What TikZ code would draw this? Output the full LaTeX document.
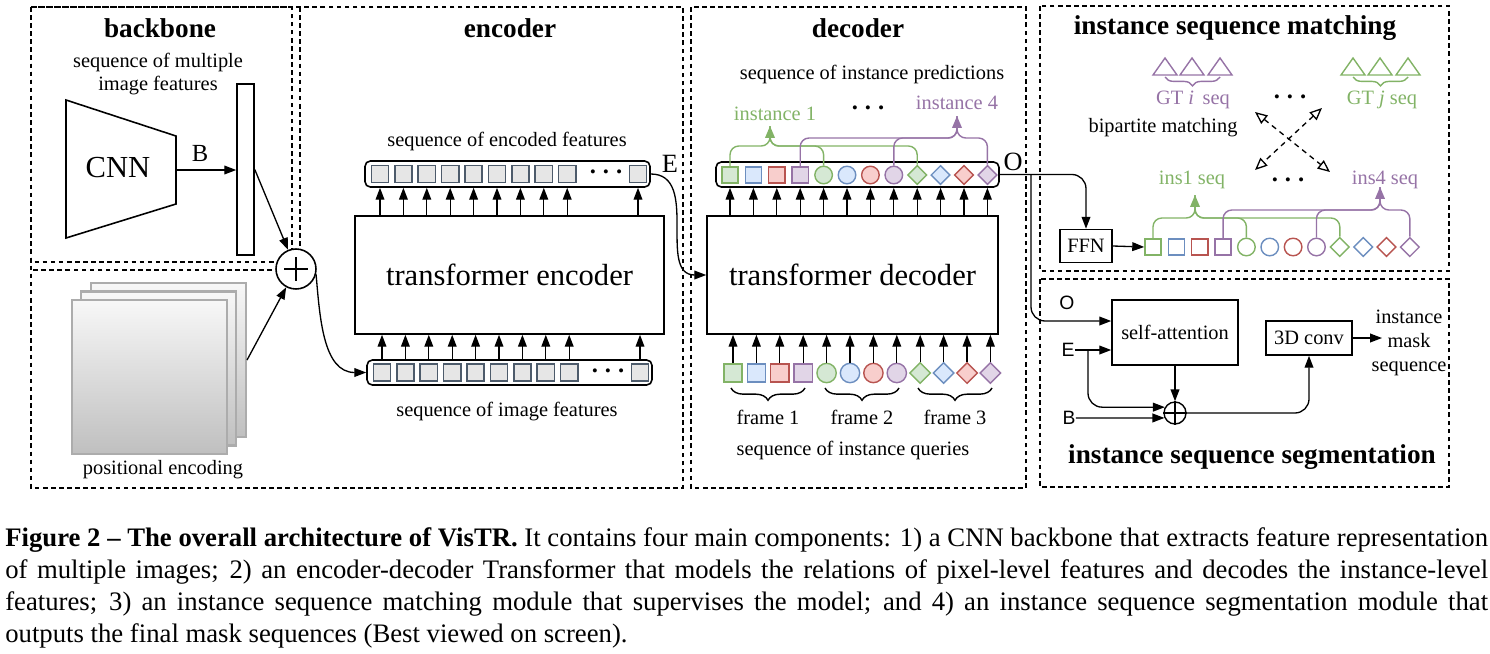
\documentclass[tikz,border=0pt]{standalone}
\usepackage{fontspec}
\setmainfont{Liberation Serif}
\newfontfamily\labelsans{Liberation Sans}
\usetikzlibrary{arrows.meta,positioning,calc,decorations.pathreplacing,shapes.geometric}
\definecolor{dgreen}{HTML}{82B366}
\definecolor{fgreen}{HTML}{D5E8D4}
\definecolor{dblue}{HTML}{6C8EBF}
\definecolor{fblue}{HTML}{DAE8FC}
\definecolor{dred}{HTML}{B85450}
\definecolor{fred}{HTML}{F8CECC}
\definecolor{dpurple}{HTML}{9673A6}
\definecolor{fpurple}{HTML}{E1D5E7}
\definecolor{featline}{HTML}{4D5B6B}
\definecolor{featfill}{HTML}{E6E6E6}

\begin{document}
\begin{tikzpicture}[x=0.02cm,y=-0.02cm,
  panel/.style={draw,dash pattern=on 2.6pt off 2pt,line width=0.8pt},
  arrow/.style={-{Triangle[length=6.8pt,width=5pt]},line width=0.75pt},
  head/.style={font=\bfseries\fontsize{15.5}{18}\selectfont,inner sep=0},
  lbl/.style={font=\fontsize{11.6}{13.6}\selectfont,align=center,inner sep=0},
  bigtxt/.style={font=\fontsize{17.4}{20}\selectfont,inner sep=0},
  letter/.style={font=\fontsize{15}{15}\selectfont,inner sep=0},
  sanslbl/.style={font=\labelsans\fontsize{11}{13}\selectfont,inner sep=0},
  block/.style={draw,line width=0.9pt,inner sep=0,font=\fontsize{11.6}{13.6}\selectfont},
  seqbox/.style={draw,rounded corners=3pt,line width=0.9pt,inner sep=0},
  feat/.style={draw=featline,fill=featfill,line width=1pt,minimum size=9.8pt,inner sep=0},
  tsq/.style={rectangle,minimum size=9.2pt,inner sep=0,line width=0.8pt},
  tci/.style={circle,minimum size=10pt,inner sep=0,line width=0.8pt},
  tdi/.style={diamond,minimum size=11pt,inner sep=0,line width=0.8pt},
  qsq/.style={rectangle,minimum size=10.4pt,inner sep=0,line width=0.8pt},
  qci/.style={circle,minimum size=11pt,inner sep=0,line width=0.8pt},
  qdi/.style={diamond,minimum size=12pt,inner sep=0,line width=0.8pt},
  gbrk/.style={draw=dgreen,line width=0.8pt,rounded corners=5pt},
  pbrk/.style={draw=dpurple,line width=0.8pt,rounded corners=5pt},
  uptip/.style={-{Triangle[length=6.8pt,width=5.5pt]}},
  dotrow/.style={font=\bfseries\fontsize{14}{14}\selectfont,inner sep=0},
  brc/.style={decorate,decoration={brace,amplitude=#1},line width=0.8pt},
  matcharrow/.style={{Triangle[open,length=7pt,width=6pt]}-{Triangle[open,length=7pt,width=6pt]},dash pattern=on 3pt off 2.5pt,line width=0.75pt}
]
\useasboundingbox (0,0) rectangle (1490,653);

% dashed panels
\draw[panel] (31,7) rectangle (683,488);
\draw[panel] (31,7) rectangle (292,262);
\draw[panel] (300,7) -- (300,270) -- (31,270);
\draw[panel] (691,7) rectangle (1026,488);
\draw[panel] (1040,6) rectangle (1449,271);
\draw[panel] (1040,279) rectangle (1449,487);

% backbone
\node[head] (bbtitle) at (160,28) {backbone};
\node[lbl,font=\fontsize{11.6}{12.6}\selectfont] (bbseq) at (158,74) {sequence of multiple\\image features};
\draw[line width=0.9pt] (66,100) -- (176,136) -- (176,204) -- (66,238) -- cycle;
\node[bigtxt] (cnn) at (118,168) {CNN};
\coordinate (cnnout) at (176,170);
\node[block,minimum width=0.34cm,minimum height=3.42cm] (fmap) at (245.5,169.5) {};
\draw[arrow] (cnnout) -- (fmap.west |- cnnout);
\node[font=\fontsize{14}{14}\selectfont,inner sep=0] (blbl) at (200,153) {B};

% positional encoding
\node[draw=gray!65,line width=1.2pt,top color=gray!6,bottom color=gray!50,minimum width=3.1cm,minimum height=3.08cm] (pe3) at (168.5,360) {};
\node[draw=gray!65,line width=1.2pt,top color=gray!6,bottom color=gray!50,minimum width=3.1cm,minimum height=3.08cm] (pe2) at (158.5,368.5) {};
\node[draw=gray!65,line width=1.2pt,top color=gray!6,bottom color=gray!50,minimum width=3.1cm,minimum height=3.08cm] (pe1) at (149.5,377) {};
\node[lbl] (pelbl) at (163,470) {positional encoding};

% sum of features and positions
\node[draw,circle,fill=white,line width=0.9pt,minimum size=0.8cm,inner sep=0] (sum) at (296,269) {};
\draw[line width=0.8pt] (sum.center) ++(-12,0) -- ++(24,0);
\draw[line width=0.8pt] (sum.center) ++(0,-12) -- ++(0,24);
\draw[arrow] (fmap.east) -- (sum);
\draw[arrow] (pe3.east) -- (sum);

% encoder
\node[head] (enctitle) at (510,28) {encoder};
\node[lbl] (enclbl) at (507,141) {sequence of encoded features};
\node[seqbox,minimum width=5.7cm,minimum height=0.52cm] (encseq) at (507.5,174) {};
\node[seqbox,minimum width=5.7cm,minimum height=0.5cm] (imgseq) at (509.5,372.5) {};
\node[block,minimum width=6.18cm,minimum height=2.36cm] (tenc) at (509.5,275) {};
\node[bigtxt] (tenclbl) at (509.5,275) {transformer encoder};
\foreach \n in {0,...,8}{
  \node[feat] (e\n) at ({380+23.4*\n},174) {};
  \node[feat] (i\n) at ({382+23.4*\n},372.5) {};
}
\node[feat] (e9) at (638,174) {};
\node[feat] (i9) at (640,372.5) {};
\node[dotrow] (edots) at (606,172) {.\hspace{4pt}.\hspace{4pt}.};
\node[dotrow] (idots) at (608,371) {.\hspace{4pt}.\hspace{4pt}.};
\foreach \n in {0,...,9}{
  \draw[arrow] (tenc.north -| e\n) -- (encseq.south -| e\n);
  \draw[arrow] (imgseq.north -| i\n) -- (tenc.south -| i\n);
}
\node[lbl] (imglbl) at (507,412) {sequence of image features};
\draw[arrow] (sum.-15) to[out=-85,in=180] (imgseq.west);

% decoder
\node[head] (dectitle) at (858,28) {decoder};
\node[lbl] (predlbl) at (872,74) {sequence of instance predictions};
\node[seqbox,minimum width=5.66cm,minimum height=0.5cm] (outseq) at (857.5,174.5) {};
\node[block,minimum width=5.82cm,minimum height=2.36cm] (tdec) at (852.5,275) {};
\node[bigtxt] (tdeclbl) at (852.5,275) {transformer decoder};
\node[letter] (elbl) at (670,164) {E};
\draw[arrow] (encseq.east) to[out=0,in=180,looseness=1.1] (tdec.west);

\foreach \n/\s/\c in {0/sq/green,1/sq/blue,2/sq/red,3/sq/purple,4/ci/green,5/ci/blue,6/ci/red,7/ci/purple,8/di/green,9/di/blue,10/di/red,11/di/purple}{
  \node[t\s,draw=d\c,fill=f\c] (o\n) at ({730+23.4*\n},175) {};
  \node[q\s,draw=d\c,fill=f\c] (q\n) at ({733+23.4*\n},373) {};
  \node[t\s,draw=d\c,fill=white] (m\n) at ({1153+23.35*\n},247) {};
  \draw[arrow] (tdec.north -| o\n) -- (outseq.south -| o\n);
  \draw[arrow] (q\n.north) -- (tdec.south -| q\n);
}

% instance groups over the predictions
\coordinate (i1mid) at (770,146);
\coordinate (i1tip) at (770,126);
\coordinate (i4mid) at (957,138);
\coordinate (i4tip) at (957,116);
\draw[gbrk] (o0.north) |- (i1mid) -- (i1tip);
\draw[gbrk] (o4.north) |- (i1mid) -- (i1tip);
\draw[gbrk,uptip] (o8.north) |- (i1mid) -- (i1tip);
\draw[pbrk] (o3.north) |- (i4mid) -- (i4tip);
\draw[pbrk] (o7.north) |- (i4mid) -- (i4tip);
\draw[pbrk,uptip] (o11.north) |- (i4mid) -- (i4tip);
\node[lbl,text=dgreen] (ins1lbl) at (775,114) {instance 1};
\node[lbl,text=dpurple] (ins4lbl) at (957,103) {instance 4};
\node[dotrow] (pdots) at (868,108) {.\hspace{4pt}.\hspace{4pt}.};

% frames of the queries
\draw[brc=7pt] (805,388) -- (731,388);
\draw[brc=7pt] (899,388) -- (825,388);
\draw[brc=7pt] (992,388) -- (918,388);
\node[lbl] (f1lbl) at (768,417) {frame 1};
\node[lbl] (f2lbl) at (862,417) {frame 2};
\node[lbl] (f3lbl) at (955,417) {frame 3};
\node[lbl] (qlbl) at (853,450) {sequence of instance queries};

% output O
\node[letter] (olbl) at (1013,162) {O};
\coordinate (obranch) at (1031,174.5);

% instance sequence matching
\node[head] (mtitle) at (1235,28) {instance sequence matching};
\node[block,minimum width=1.04cm,minimum height=0.66cm] (ffn) at (1086,246) {FFN};
\draw[arrow,rounded corners=8pt] (outseq.east) -| (ffn.north);
\draw[arrow] (ffn.east) -- (m0.west);
\coordinate (s1mid) at (1195,218);
\coordinate (s1tip) at (1195,195);
\coordinate (s4mid) at (1380,210);
\coordinate (s4tip) at (1380,187);
\draw[gbrk] (m0.north) |- (s1mid) -- (s1tip);
\draw[gbrk] (m4.north) |- (s1mid) -- (s1tip);
\draw[gbrk,uptip] (m8.north) |- (s1mid) -- (s1tip);
\draw[pbrk] (m3.north) |- (s4mid) -- (s4tip);
\draw[pbrk] (m7.north) |- (s4mid) -- (s4tip);
\draw[pbrk,uptip] (m11.north) |- (s4mid) -- (s4tip);
\node[lbl,text=dgreen] (s1lbl) at (1192,180) {ins1 seq};
\node[lbl,text=dpurple] (s4lbl) at (1385,180) {ins4 seq};
\node[dotrow] (sdots) at (1288,180) {.\hspace{4pt}.\hspace{4pt}.};

\foreach \x in {1165,1192,1220}
  \draw[dpurple,line width=0.8pt] (\x-12,75) -- (\x,58) -- (\x+12,75) -- cycle;
\foreach \x in {1353,1380,1408}
  \draw[dgreen,line width=0.8pt] (\x-12,75) -- (\x,58) -- (\x+12,75) -- cycle;
\draw[dpurple,brc=5pt] (1220,77) -- (1165,77);
\draw[dgreen,brc=5pt] (1408,77) -- (1353,77);
\node[lbl,text=dpurple] (gtilbl) at (1193,100) {GT \textit{i}\, seq};
\node[lbl,text=dgreen] (gtjlbl) at (1382,100) {GT \textit{j} seq};
\node[dotrow] (gdots) at (1290,97) {.\hspace{4pt}.\hspace{4pt}.};
\node[lbl] (bplbl) at (1163,128) {bipartite matching};
\coordinate (xa1) at (1255,112);
\coordinate (xa2) at (1330,172);
\coordinate (xb1) at (1322,108);
\coordinate (xb2) at (1255,170);
\draw[matcharrow] (xa1) -- (xa2);
\draw[matcharrow] (xb1) -- (xb2);

% instance sequence segmentation
\node[block,minimum width=2.52cm,minimum height=1.3cm] (selfatt) at (1175,332.5) {self-attention};
\node[block,minimum width=1.72cm,minimum height=0.68cm] (conv) at (1309,338) {3D conv};
\node[draw,circle,fill=white,line width=0.8pt,minimum size=0.44cm,inner sep=0] (sum2) at (1175,413) {};
\draw[line width=0.7pt] (sum2.north) -- (sum2.south);
\draw[line width=0.7pt] (sum2.west) -- (sum2.east);
\node[sanslbl] (segO) at (1067,303) {O};
\node[sanslbl] (segE) at (1068,350) {E};
\node[sanslbl] (segB) at (1069,418) {B};
\path (selfatt.west) ++(0,-11.5) coordinate (oin);
\coordinate (ebranch) at (1088,350);
\draw[arrow,rounded corners=8pt] (obranch) |- (oin);
\draw[arrow] (segE.east) -- (segE.east -| selfatt.west);
\draw[arrow,rounded corners=8pt] (ebranch) |- (sum2.150);
\draw[arrow] (segB.east) -- (sum2.205);
\draw[arrow] (selfatt.south) -- (sum2.north);
\draw[arrow,rounded corners=8pt] (sum2.east) -| (conv.south);
\coordinate (convout) at (1382,338);
\draw[arrow] (conv.east) -- (convout);
\node[lbl,font=\fontsize{11.6}{13.6}\selectfont] (masklbl) at (1409,343) {instance\\mask\\sequence};
\node[head] (stitle) at (1252,457) {instance sequence segmentation};

% caption
\node[anchor=north west,inner sep=0,align=left,font=\fontsize{15.2}{18.3}\selectfont] (caption) at (5,527)
  {\makebox[29.66cm][s]{\textbf{Figure 2 -- The overall architecture of VisTR.} It contains four main components: 1) a CNN backbone that extracts feature representation}\\
   \makebox[29.66cm][s]{of multiple images; 2) an encoder-decoder Transformer that models the relations of pixel-level features and decodes the instance-level}\\
   \makebox[29.66cm][s]{features; 3) an instance sequence matching module that supervises the model; and 4) an instance sequence segmentation module that}\\
   outputs the final mask sequences (Best viewed on screen).};
\end{tikzpicture}
\end{document}
